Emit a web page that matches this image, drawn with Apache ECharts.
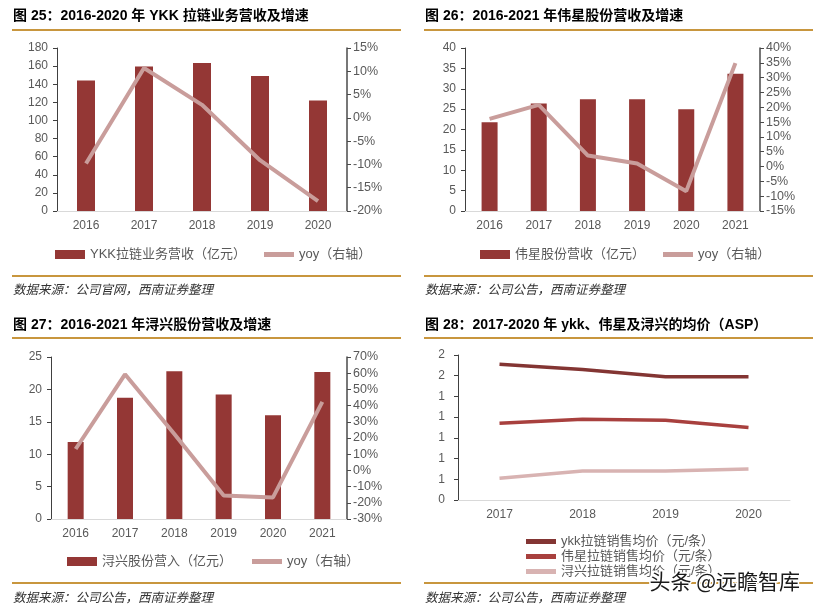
<!DOCTYPE html>
<html>
<head>
<meta charset="utf-8">
<script src="https://cdn.jsdelivr.net/npm/echarts@6/dist/echarts.min.js"></script>
<style>
  html, body { margin: 0; padding: 0; background: #fff; }
  #main { width: 817px; height: 611px; }
</style>
</head>
<body>
<div id="main"></div>
<script>
// 图25 YKK
var ykkYears = ['2016', '2017', '2018', '2019', '2020'];
var ykkRevenue = [144, 159.5, 163.5, 149, 122];
var ykkYoy = [-9.8, 10.7, 2.8, -9.1, -17.9];

// 图26 伟星
var wxYears = ['2016', '2017', '2018', '2019', '2020', '2021'];
var wxRevenue = [21.8, 26.4, 27.4, 27.4, 25.0, 33.7];
var wxYoy = [16.1, 20.8, 3.7, 1.0, -8.3, 34.9];

// 图27 浔兴
var xxYears = ['2016', '2017', '2018', '2019', '2020', '2021'];
var xxRevenue = [11.9, 18.7, 22.8, 19.2, 16.0, 22.7];
var xxYoy = [13.2, 59.3, 22.5, -15.5, -16.7, 42.3];

// 图28 ASP
var aspYears = ['2017', '2018', '2019', '2020'];
var aspYkk = [1.71, 1.66, 1.59, 1.59];
var aspWx = [1.14, 1.18, 1.17, 1.10];
var aspXx = [0.61, 0.68, 0.68, 0.70];

var barColor = '#943735';
var yoyColor = '#C99D9B';
var labelColor = '#595959';
var gold = '#C8963E';
var FONT = '"Liberation Sans", Arial, "Noto Sans CJK SC", sans-serif';
var lineIcon = 'path://M0,0H30V5H0Z';

function leftAxis(idx, max, interval, min, fmt, margin) {
    return {
        type: 'value', gridIndex: idx, position: 'left',
        min: min || 0, max: max, interval: interval,
        axisLine: { show: true, lineStyle: { color: '#404040', width: 1 } },
        axisTick: { show: true, length: 4, lineStyle: { color: '#404040' } },
        splitLine: { show: false },
        axisLabel: { color: labelColor, fontSize: 12, fontFamily: FONT, margin: margin || 9, formatter: fmt }
    };
}
function rightAxis(idx, min, max, interval) {
    return {
        type: 'value', gridIndex: idx, position: 'right',
        min: min, max: max, interval: interval,
        axisLine: { show: true, lineStyle: { color: '#4a4a4a', width: 1.5 } },
        axisTick: { show: true, length: 4, lineStyle: { color: '#4a4a4a' } },
        splitLine: { show: false },
        axisLabel: { color: labelColor, fontSize: 12.5, fontFamily: FONT, margin: 6, formatter: '{value}%' }
    };
}
function catAxis(idx, data) {
    return {
        type: 'category', gridIndex: idx, data: data,
        axisLine: { lineStyle: { color: '#d9d9d9', width: 1 } },
        axisTick: { show: false },
        axisLabel: { color: labelColor, fontSize: 12, fontFamily: FONT, margin: 9 }
    };
}
function legendTxt() {
    return { color: labelColor, fontSize: 13, fontFamily: FONT };
}

// 标题、金线、数据来源
var panels = [
    { x: 13, y: 17, title: '图 25：2016-2020 年 YKK 拉链业务营收及增速', lineY: 30, botY: 276, srcY: 290, src: '数据来源：公司官网，西南证券整理', x2: 401 },
    { x: 425, y: 17, title: '图 26：2016-2021 年伟星股份营收及增速', lineY: 30, botY: 276, srcY: 290, src: '数据来源：公司公告，西南证券整理', x2: 813 },
    { x: 13, y: 326, title: '图 27：2016-2021 年浔兴股份营收及增速', lineY: 338, botY: 583, srcY: 598, src: '数据来源：公司公告，西南证券整理', x2: 401 },
    { x: 425, y: 326, title: '图 28：2017-2020 年 ykk、伟星及浔兴的均价（ASP）', lineY: 338, botY: 583, srcY: 598, src: '数据来源：公司公告，西南证券整理', x2: 813 }
];
var graphics = [];
panels.forEach(function (p) {
    graphics.push({ type: 'text', left: p.x, top: p.y - 8, style: { text: p.title, fill: '#000', font: 'bold 14px ' + FONT } });
    graphics.push({ type: 'line', shape: { x1: p.x - 1, y1: p.lineY, x2: p.x2, y2: p.lineY }, style: { stroke: gold, lineWidth: 2 } });
    graphics.push({ type: 'line', shape: { x1: p.x - 1, y1: p.botY, x2: p.x2, y2: p.botY }, style: { stroke: gold, lineWidth: 2 } });
    graphics.push({ type: 'text', left: p.x, top: p.srcY - 7, style: { text: p.src, fill: '#333', font: 'italic 12.5px "Noto Sans CJK SC", sans-serif' } });
});
graphics.push({
    type: 'text', left: 648, top: 569, z: 100,
    style: { text: '头条 @远瞻智库', fill: '#1a1a1a', stroke: '#fff', lineWidth: 3, font: '21px "Noto Sans CJK SC", sans-serif' }
});

var myChart = echarts.init(document.getElementById('main'));
var option = {
    animation: false,
    backgroundColor: '#fff',
    textStyle: { fontFamily: FONT },
    graphic: graphics,
    grid: [
        { left: 57, right: 470, top: 48, bottom: 400 },
        { left: 465, right: 57, top: 48, bottom: 400 },
        { left: 51, right: 470, top: 357, bottom: 92 },
        { left: 458, right: 27, top: 355, bottom: 111 }
    ],
    xAxis: [catAxis(0, ykkYears), catAxis(1, wxYears), catAxis(2, xxYears), catAxis(3, aspYears)],
    yAxis: [
        leftAxis(0, 180, 20), rightAxis(0, -20, 15, 5),
        leftAxis(1, 40, 5), rightAxis(1, -15, 40, 5),
        leftAxis(2, 25, 5), rightAxis(2, -30, 70, 10),
        leftAxis(3, 1.8, 0.2, 0.4, function (v) { return Math.round(v); }, 13)
    ],
    legend: [
        { left: 50, top: 243, itemWidth: 30, itemHeight: 9, itemGap: 18, symbolKeepAspect: true, textStyle: legendTxt(),
          data: [{ name: 'YKK拉链业务营收（亿元）', icon: 'rect' }, { name: 'yoy（右轴）', icon: lineIcon, itemStyle: { color: yoyColor } }] },
        { left: 475, top: 243, itemWidth: 30, itemHeight: 9, itemGap: 18, symbolKeepAspect: true, textStyle: legendTxt(),
          data: [{ name: '伟星股份营收（亿元）', icon: 'rect' }, { name: 'yoy（右轴） ', icon: lineIcon, itemStyle: { color: yoyColor } }] },
        { left: 62, top: 550, itemWidth: 30, itemHeight: 9, itemGap: 20, symbolKeepAspect: true, textStyle: legendTxt(),
          data: [{ name: '浔兴股份营入（亿元）', icon: 'rect' }, { name: 'yoy（右轴）  ', icon: lineIcon, itemStyle: { color: yoyColor } }] },
        { left: 521, top: 530, orient: 'vertical', itemWidth: 30, itemHeight: 13, itemGap: 2, symbolKeepAspect: true, textStyle: legendTxt(),
          data: [
              { name: 'ykk拉链销售均价（元/条）', icon: lineIcon },
              { name: '伟星拉链销售均价（元/条）', icon: lineIcon },
              { name: '浔兴拉链销售均价（元/条）', icon: lineIcon }
          ] }
    ],
    series: [
        { name: 'YKK拉链业务营收（亿元）', type: 'bar', xAxisIndex: 0, yAxisIndex: 0, data: ykkRevenue, barWidth: 18, itemStyle: { color: barColor } },
        { name: 'yoy（右轴）', type: 'line', xAxisIndex: 0, yAxisIndex: 1, data: ykkYoy, symbol: 'none', lineStyle: { color: yoyColor, width: 4 }, itemStyle: { color: yoyColor } },
        { name: '伟星股份营收（亿元）', type: 'bar', xAxisIndex: 1, yAxisIndex: 2, data: wxRevenue, barWidth: 16, itemStyle: { color: barColor } },
        { name: 'yoy（右轴） ', type: 'line', xAxisIndex: 1, yAxisIndex: 3, data: wxYoy, symbol: 'none', lineStyle: { color: yoyColor, width: 4 }, itemStyle: { color: yoyColor } },
        { name: '浔兴股份营入（亿元）', type: 'bar', xAxisIndex: 2, yAxisIndex: 4, data: xxRevenue, barWidth: 16, itemStyle: { color: barColor } },
        { name: 'yoy（右轴）  ', type: 'line', xAxisIndex: 2, yAxisIndex: 5, data: xxYoy, symbol: 'none', lineStyle: { color: yoyColor, width: 4 }, itemStyle: { color: yoyColor } },
        { name: 'ykk拉链销售均价（元/条）', type: 'line', xAxisIndex: 3, yAxisIndex: 6, data: aspYkk, symbol: 'none', lineStyle: { color: '#833533', width: 3.5 }, itemStyle: { color: '#833533' } },
        { name: '伟星拉链销售均价（元/条）', type: 'line', xAxisIndex: 3, yAxisIndex: 6, data: aspWx, symbol: 'none', lineStyle: { color: '#A8403E', width: 3.5 }, itemStyle: { color: '#A8403E' } },
        { name: '浔兴拉链销售均价（元/条）', type: 'line', xAxisIndex: 3, yAxisIndex: 6, data: aspXx, symbol: 'none', lineStyle: { color: '#D8B3B2', width: 3.5 }, itemStyle: { color: '#D8B3B2' } }
    ]
};
myChart.setOption(option);
</script>
</body>
</html>
